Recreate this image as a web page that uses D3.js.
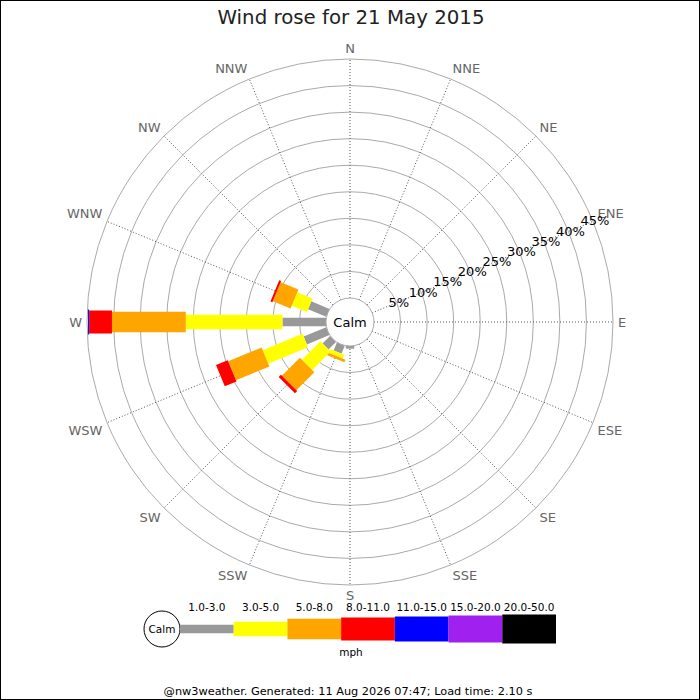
<!DOCTYPE html>
<html>
<head>
<meta charset="utf-8">
<script src="https://cdn.jsdelivr.net/npm/d3@7"></script>
<style>
  html, body { margin:0; padding:0; background:#fff; }
  svg { display:block; font-family:"DejaVu Sans", sans-serif; }
</style>
</head>
<body>
<svg id="chart" width="700" height="700"></svg>
<script>
/* ------------------------------- data -------------------------------- */
const directions = ['N','NNE','NE','ENE','E','ESE','SE','SSE','S','SSW','SW','WSW','W','WNW','NW','NNW'];
const bands      = ['1.0-3.0','3.0-5.0','5.0-8.0','8.0-11.0','11.0-15.0','15.0-20.0','20.0-50.0'];
const ringTicks  = [5, 10, 15, 20, 25, 30, 35, 40, 45];

// % of time per direction, one array per speed band (N ... NNW)
const band1 = [0,0,0,0,0,0,0,0, 0.5, 1.6, 2.0, 4.6,  8.2, 3.7, 0,0];
const band2 = [0,0,0,0,0,0,0,0, 0,   0.8, 4.9, 8.1, 18.2, 3.1, 0,0];
const band3 = [0,0,0,0,0,0,0,0, 0,   0.5, 4.8, 6.8, 13.9, 3.6, 0,0];
const band4 = [0,0,0,0,0,0,0,0, 0,   0,   0.6, 2.4,  4.3, 0.4, 0,0];
const band5 = [0,0,0,0,0,0,0,0, 0,   0,   0,   0,    0.2, 0,   0,0];
const band6 = [0,0,0,0,0,0,0,0, 0,   0,   0,   0,    0,   0,   0,0];
const band7 = [0,0,0,0,0,0,0,0, 0,   0,   0,   0,    0,   0,   0,0];
const bandValues = [band1, band2, band3, band4, band5, band6, band7];

const titleText  = 'Wind rose for 21 May 2015';
const footerText = '@nw3weather. Generated: 11 Aug 2026 07:47; Load time: 2.10 s';

/* ------------------------------- style ------------------------------- */
const COLORS = ['#999999','#ffff00','#ffa500','#ff0000','#0000ff','#a020f0','#000000'];
const WIDTHS = [8.5, 14.5, 20.5, 23, 25, 27, 29];
const CX = 350, CY = 322, CALM_R = 24, OUTER_R = 263;

const svg = d3.select('#chart');

svg.append('rect').attr('x',0.5).attr('y',0.5).attr('width',699).attr('height',699)
  .attr('fill','#fff').attr('stroke','#000');

svg.append('text').attr('x',351).attr('y',24).attr('text-anchor','middle')
  .attr('font-size',19.8).attr('fill','#222').text(titleText);

/* ------------------------------- polar grid -------------------------- */
const rScale = d3.scaleLinear().domain([0, 45]).range([CALM_R, OUTER_R]);
const angle  = d3.scaleLinear().domain([0, directions.length]).range([0, 360]);
const rose   = svg.append('g').attr('transform', `translate(${CX},${CY})`);

rose.selectAll('circle.ring').data(ringTicks).enter().append('circle')
  .attr('class','ring').attr('r', d => rScale(d))
  .attr('fill','none').attr('stroke','#aaa').attr('stroke-width',1);

const pt = (deg, r) => {
  const a = deg * Math.PI / 180;
  return [r * Math.sin(a), -r * Math.cos(a)];
};

rose.selectAll('line.spoke').data(directions).enter().append('line')
  .attr('class','spoke')
  .attr('x1', (d,i) => pt(angle(i), CALM_R)[0]).attr('y1', (d,i) => pt(angle(i), CALM_R)[1])
  .attr('x2', (d,i) => pt(angle(i), OUTER_R)[0]).attr('y2', (d,i) => pt(angle(i), OUTER_R)[1])
  .attr('stroke','#555').attr('stroke-width',1).attr('stroke-dasharray','1,2');

// direction labels, anchored outside the outer ring
rose.selectAll('text.dir').data(directions).enter().append('text')
  .attr('class','dir')
  .each(function(d, i) {
    const [x, y] = pt(angle(i), OUTER_R + 5);
    const anchor = x > 1 ? 'start' : x < -1 ? 'end' : 'middle';
    const yy = y < -1 ? y - 1 : y > 1 ? y + 10 : y + 5;
    d3.select(this).attr('x', x).attr('y', yy).attr('text-anchor', anchor);
  })
  .attr('font-size',13).attr('fill','#666').text(d => d);

/* ------------------------------- bars -------------------------------- */
directions.forEach((dir, i) => {
  const g = rose.append('g').attr('transform', `rotate(${angle(i) - 90})`);
  let cum = 0;
  bandValues.forEach((vals, b) => {
    const v = vals[i];
    if (!v) return;
    const r0 = rScale(cum), r1 = rScale(cum + v);
    g.append('rect')
      .attr('x', r0).attr('y', -WIDTHS[b] / 2)
      .attr('width', r1 - r0).attr('height', WIDTHS[b])
      .attr('fill', COLORS[b]);
    cum += v;
  });
});

// calm circle
rose.append('circle').attr('r', CALM_R).attr('fill','#fff').attr('stroke','#aaa');
rose.append('text').attr('y',5).attr('text-anchor','middle')
  .attr('font-size',13).attr('fill','#000').text('Calm');

// percentage labels along the ENE spoke
rose.selectAll('text.pct').data(ringTicks).enter().append('text')
  .attr('class','pct')
  .attr('x', d => pt(67.5, rScale(d))[0] + 2)
  .attr('y', d => pt(67.5, rScale(d))[1] + 4)
  .attr('text-anchor','middle').attr('font-size',13).attr('fill','#000')
  .text(d => d + '%');

/* ------------------------------- legend ------------------------------ */
const legX = d3.scaleBand().domain(bands).range([180, 556]);
const LEG_Y = 629;
const legend = svg.append('g');

legend.append('circle').attr('cx',162).attr('cy',LEG_Y).attr('r',18)
  .attr('fill','#fff').attr('stroke','#000');
legend.append('text').attr('x',162).attr('y',LEG_Y + 4).attr('text-anchor','middle')
  .attr('font-size',10.5).text('Calm');

legend.selectAll('rect.key').data(bands).enter().append('rect')
  .attr('class','key')
  .attr('x', d => legX(d)).attr('width', legX.bandwidth())
  .attr('y', (d,i) => LEG_Y - WIDTHS[i] / 2).attr('height', (d,i) => WIDTHS[i])
  .attr('fill', (d,i) => COLORS[i]);

legend.selectAll('text.key').data(bands).enter().append('text')
  .attr('class','key')
  .attr('x', d => legX(d) + legX.bandwidth() / 2).attr('y', 611)
  .attr('text-anchor','middle').attr('font-size',10.5).attr('fill','#000')
  .text(d => d);

legend.append('text').attr('x',351).attr('y',656).attr('text-anchor','middle')
  .attr('font-size',10.5).text('mph');

svg.append('text').attr('x',348).attr('y',695).attr('text-anchor','middle')
  .attr('font-size',11.3).attr('fill','#000').text(footerText);
</script>
</body>
</html>
